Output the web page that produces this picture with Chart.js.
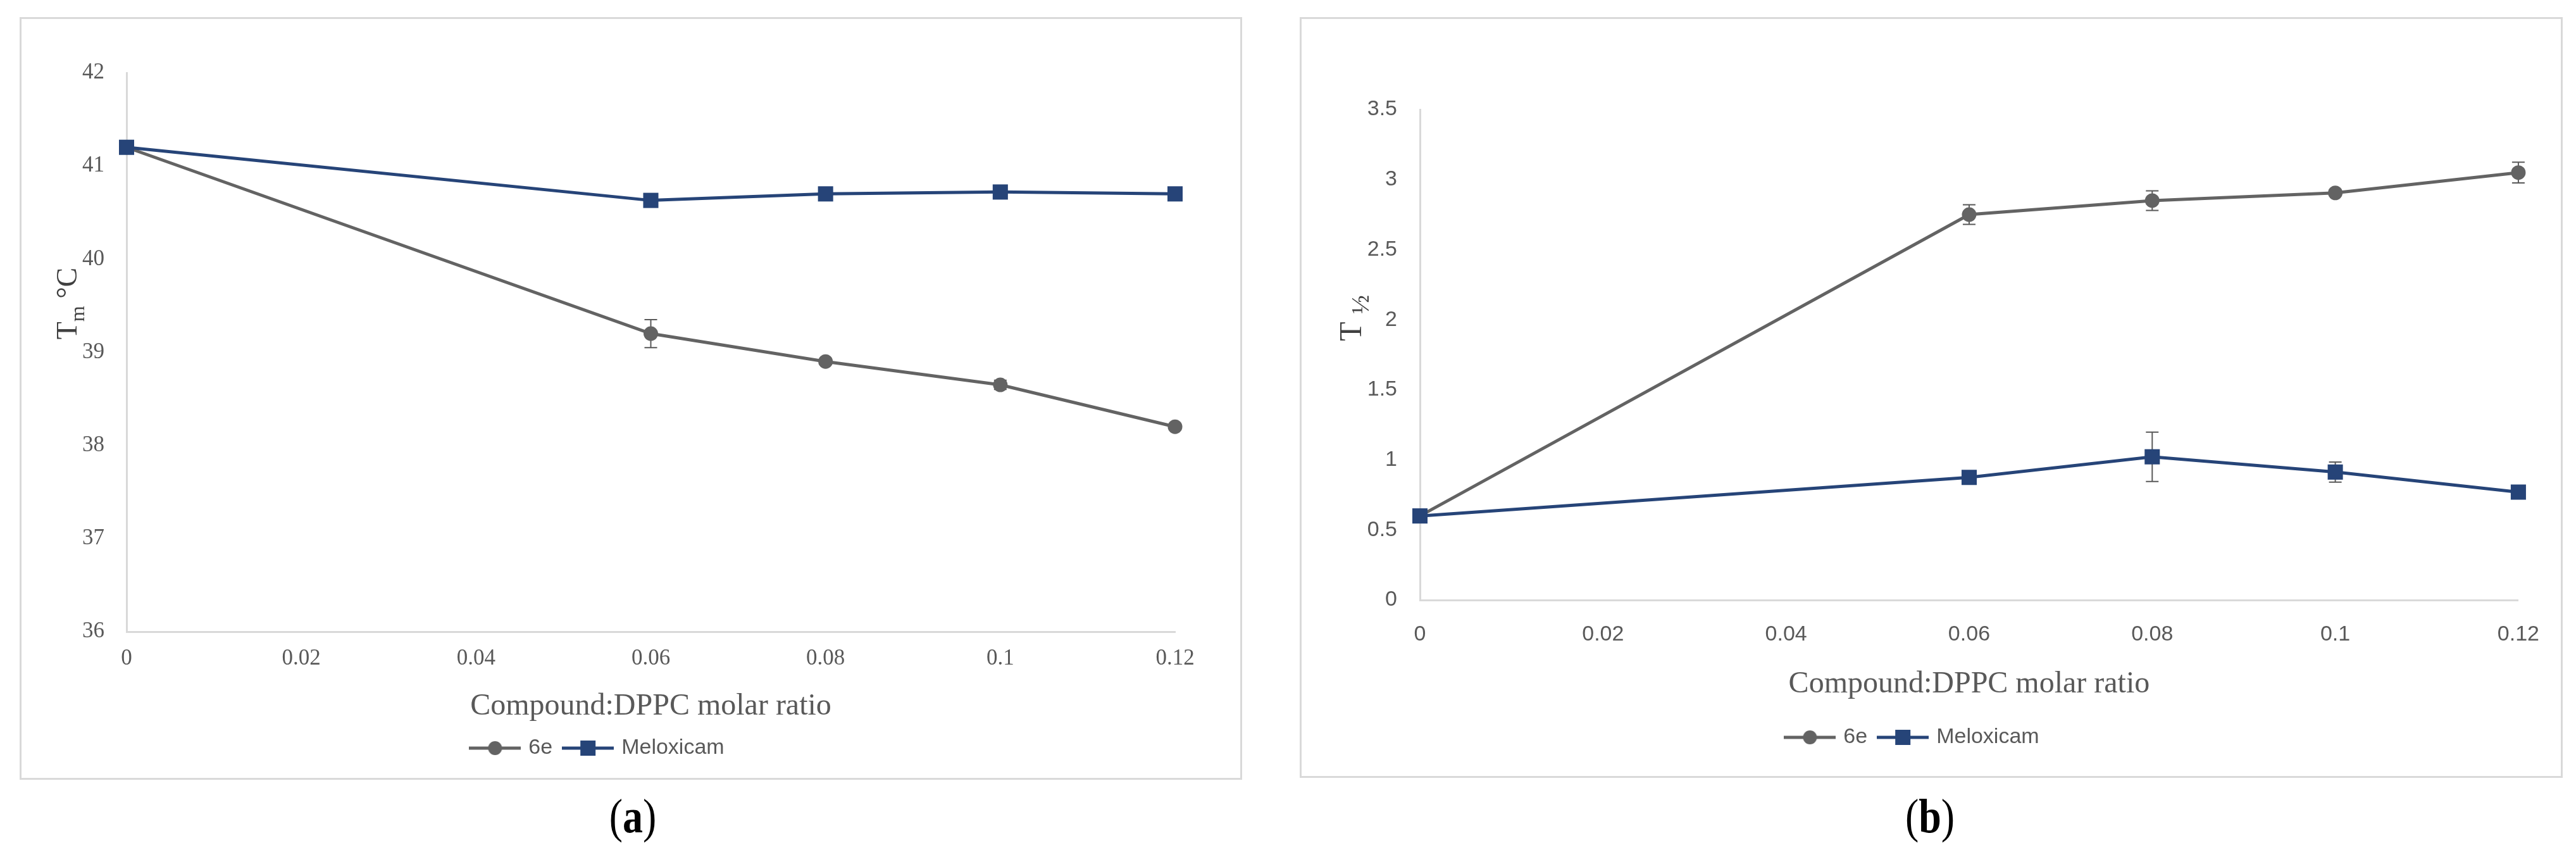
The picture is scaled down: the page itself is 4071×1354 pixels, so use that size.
<!DOCTYPE html>
<html>
<head>
<meta charset="utf-8">
<title>Tm and T1/2 vs Compound:DPPC molar ratio</title>
<script src="https://cdn.jsdelivr.net/npm/chart.js@4.4.0/dist/chart.umd.min.js"></script>
<style>
  html, body { margin: 0; padding: 0; background: #fff; }
  body { width: 4071px; height: 1354px; position: relative; overflow: hidden; }
  .panel { position: absolute; box-sizing: border-box; border: 3px solid #d9d9d9; background: #fff; }
  .panel canvas { display: block; }
  .tag { position: absolute; font-family: "Liberation Serif", serif; font-size: 64px; line-height: 1;
         color: #000; transform: translateX(-50%) scaleY(1.2); white-space: nowrap; }
</style>
</head>
<body>
<div class="panel" style="left:31px;top:27px;width:1932px;height:1205px"><canvas id="chartA" width="1926" height="1199"></canvas></div>
<div class="panel" style="left:2054px;top:27px;width:1996px;height:1202px"><canvas id="chartB" width="1990" height="1196"></canvas></div>
<div class="tag" style="left:1000px;top:1258px">(<b>a</b>)</div>
<div class="tag" style="left:3050px;top:1258px">(<b>b</b>)</div>

<script>
// data
const ratios = [0, 0.06, 0.08, 0.1, 0.12];
const xTickValues = [0, 0.02, 0.04, 0.06, 0.08, 0.1, 0.12];
const seriesNames = ['6e', 'Meloxicam'];

// (a) Tm in degC
const tm6e = [41.2, 39.2, 38.9, 38.65, 38.2];
const tm6eErr = [0.02, 0.15, 0.03, 0.05, 0.03];
const tmMelox = [41.2, 40.63, 40.7, 40.72, 40.7];
const tmMeloxErr = [0.02, 0.03, 0.02, 0.02, 0.02];
const tmTicks = [36, 37, 38, 39, 40, 41, 42];

// (b) T 1/2
const half6e = [0.6, 2.75, 2.85, 2.905, 3.05];
const half6eErr = [0.02, 0.07, 0.07, 0.02, 0.074];
const halfMelox = [0.6, 0.875, 1.022, 0.913, 0.77];
const halfMeloxErr = [0.02, 0.02, 0.176, 0.072, 0.02];
const halfTicks = [0, 0.5, 1, 1.5, 2, 2.5, 3, 3.5];

const GREY = '#636363';
const BLUE = '#264478';
const TEXT = '#595959';

function fmt(v) { return String(+v.toFixed(2)); }

// excel-like legend icon: a short line with the marker in the middle
function legendIcon(color, style) {
  const c = document.createElement('canvas');
  c.width = 82; c.height = 26;
  const g = c.getContext('2d');
  g.strokeStyle = color; g.lineWidth = 5;
  g.beginPath(); g.moveTo(0, 13); g.lineTo(82, 13); g.stroke();
  g.fillStyle = color;
  if (style === 'circle') { g.beginPath(); g.arc(41, 13, 11, 0, Math.PI * 2); g.fill(); }
  else g.fillRect(29, 1, 24, 24);
  return c;
}
const icons = [legendIcon(GREY, 'circle'), legendIcon(BLUE, 'rect')];

const errorBars = {
  id: 'errorBars',
  beforeDatasetsDraw(chart) {
    const { ctx, scales: { x, y } } = chart;
    ctx.save();
    ctx.strokeStyle = '#595959';
    ctx.lineWidth = 2;
    chart.data.datasets.forEach(ds => {
      ds.data.forEach((p, j) => {
        const e = ds.errors[j];
        const px = x.getPixelForValue(p.x);
        const t = y.getPixelForValue(p.y + e);
        const b = y.getPixelForValue(p.y - e);
        ctx.beginPath();
        ctx.moveTo(px, t); ctx.lineTo(px, b);
        ctx.moveTo(px - 10, t); ctx.lineTo(px + 10, t);
        ctx.moveTo(px - 10, b); ctx.lineTo(px + 10, b);
        ctx.stroke();
      });
    });
    ctx.restore();
  }
};

// rotated y title with sub/superscript parts
function yTitle(parts, dx, dy) {
  return {
    id: 'yTitle',
    afterDraw(chart) {
      const { ctx, chartArea } = chart;
      ctx.save();
      ctx.translate(chartArea.left + dx, (chartArea.top + chartArea.bottom) / 2 + dy);
      ctx.rotate(-Math.PI / 2);
      ctx.fillStyle = '#404040';
      ctx.textBaseline = 'alphabetic';
      const widths = parts.map(p => { ctx.font = p.font; return ctx.measureText(p.text).width; });
      let cx = -widths.reduce((a, b) => a + b, 0) / 2;
      parts.forEach((p, i) => {
        ctx.font = p.font;
        ctx.fillText(p.text, cx, 15 + (p.shift || 0));
        cx += widths[i];
      });
      ctx.restore();
    }
  };
}

function makeChart(id, o) {
  const mk = (vals, errs, i) => ({
    label: seriesNames[i],
    data: ratios.map((r, j) => ({ x: r, y: vals[j] })),
    errors: errs,
    order: 1 - i, // meloxicam drawn on top, like the original
    borderColor: i ? BLUE : GREY,
    backgroundColor: i ? BLUE : GREY,
    borderWidth: 5,
    pointStyle: i ? 'rect' : 'circle',
    pointRadius: i ? 17 : 11.5,
    pointBorderWidth: 0,
    tension: 0,
    clip: false
  });
  return new Chart(document.getElementById(id), {
    type: 'line',
    data: { datasets: [mk(o.s1, o.e1, 0), mk(o.s2, o.e2, 1)] },
    options: {
      responsive: false,
      animation: false,
      devicePixelRatio: 1,
      layout: { padding: o.pad },
      scales: {
        x: {
          type: 'linear', min: 0, max: 0.12,
          afterBuildTicks: s => { s.ticks = xTickValues.map(v => ({ value: v })); },
          afterFit: s => { s.height = o.xH; },
          grid: { display: true, drawOnChartArea: false, drawTicks: false },
          border: { display: true, color: '#d9d9d9', width: 3 },
          ticks: { color: TEXT, padding: o.xPad, font: o.tickFontX, callback: fmt, maxRotation: 0 },
          title: { display: true, text: 'Compound:DPPC molar ratio', color: TEXT,
                   font: { family: 'Liberation Serif', size: 48 }, padding: { top: 0, bottom: o.titlePb } }
        },
        y: {
          type: 'linear', min: o.yTicks[0], max: o.yTicks[o.yTicks.length - 1],
          afterBuildTicks: s => { s.ticks = o.yTicks.map(v => ({ value: v })); },
          afterFit: s => { s.width = o.yW; },
          grid: { display: true, drawOnChartArea: false, drawTicks: false },
          border: { display: true, color: '#d9d9d9', width: 3 },
          ticks: { color: TEXT, padding: o.yPad, font: o.tickFontY, callback: fmt }
        }
      },
      plugins: {
        tooltip: { enabled: false },
        legend: {
          position: 'bottom',
          labels: {
            usePointStyle: true, pointStyleWidth: 72, padding: 20, color: TEXT,
            font: { family: 'Liberation Sans', size: 34 },
            generateLabels(chart) {
              const items = Chart.defaults.plugins.legend.labels.generateLabels(chart);
              items.sort((a, b) => a.datasetIndex - b.datasetIndex);
              items.forEach(it => { it.pointStyle = icons[it.datasetIndex]; });
              return items;
            }
          }
        }
      }
    },
    plugins: [errorBars, yTitle(o.title, o.titleDx, o.titleDy)]
  });
}

makeChart('chartA', {
  s1: tm6e, e1: tm6eErr, s2: tmMelox, e2: tmMeloxErr, yTicks: tmTicks,
  pad: { left: 0, top: 85, right: 103, bottom: 20 },
  yW: 166, xH: 147, xPad: 22, yPad: 35, titlePb: 0,
  tickFontX: { family: 'Liberation Serif', size: 35 },
  tickFontY: { family: 'Liberation Serif', size: 35 },
  title: [
    { text: 'T', font: '46px "Liberation Serif"' },
    { text: 'm', font: '32px "Liberation Serif"', shift: 12 },
    { text: ' \u00B0C', font: '46px "Liberation Serif"' }
  ],
  titleDx: -94, titleDy: -77
});

makeChart('chartB', {
  s1: half6e, e1: half6eErr, s2: halfMelox, e2: halfMeloxErr, yTicks: halfTicks,
  pad: { left: 0, top: 143, right: 57, bottom: 34 },
  yW: 187, xH: 180, xPad: 34, yPad: 36, titlePb: 18,
  tickFontX: { family: 'Liberation Sans', size: 34 },
  tickFontY: { family: 'Liberation Sans', size: 34 },
  title: [
    { text: 'T ', font: '50px "Liberation Serif"' },
    { text: '\u00BD', font: '40px "Liberation Serif"', shift: 12 }
  ],
  titleDx: -108, titleDy: -58
});
</script>
</body>
</html>
